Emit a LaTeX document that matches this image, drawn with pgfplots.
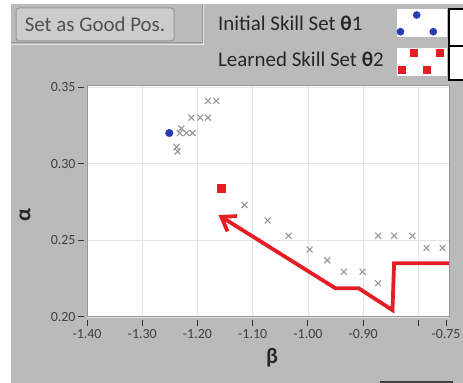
\documentclass[border=0pt]{standalone}
\usepackage{fontspec}
\setmainfont{Carlito}
\usepackage{pgfplots}
\pgfplotsset{compat=1.18}
\usetikzlibrary{arrows.meta}
\definecolor{panel}{RGB}{186,186,186}
\definecolor{btn}{RGB}{204,204,204}
\definecolor{btnborder}{RGB}{150,150,150}
\definecolor{ured}{RGB}{228,30,36}
\definecolor{ublue}{RGB}{40,60,180}
\definecolor{xgray}{RGB}{150,150,150}
\definecolor{gridc}{RGB}{228,228,228}
\begin{document}
\begin{tikzpicture}
\fill[white] (0,0) rectangle (463bp,383bp);
\fill[panel] (11bp,0) rectangle (463bp,379bp);
\begin{scope}[x=1bp,y=1bp]
% button
\draw[btnborder, fill=btn, rounded corners=3bp, line width=1bp] (16,342) rectangle (174,375);
\node[text=black!68, font=\fontsize{21}{24}\selectfont, anchor=base, inner sep=0] at (95,351.3) {Set as Good Pos.};
% separator
\draw[black!42, line width=1bp] (11,340) -- (202,340) -- (202,379);
\draw[white!80!gray, line width=1bp] (11,338.8) -- (203.3,338.8) -- (203.3,379);
% legend texts
\node[text=black!85, font=\fontsize{21}{24}\selectfont, anchor=base west, inner sep=0] at (218,353) {Initial Skill Set \textbf{θ}1};
\node[text=black!85, font=\fontsize{21}{24}\selectfont, anchor=base west, inner sep=0] at (218,316.3) {Learned Skill Set \textbf{θ}2};
% swatch boxes
\fill[white] (397,346) rectangle (447,374);
\fill[white] (397,307) rectangle (447,335);
\draw[black, line width=1.2bp, fill=white] (449,337) rectangle (475,374);
\draw[black, line width=1.2bp, fill=white] (449,303) rectangle (475,337);
% bottom control edge
\draw[black!75, line width=1.5bp] (380,1) -- (453,1);
% axis labels
\node[font=\fontsize{22}{24}\selectfont\bfseries, text=black!85] at (272,25) {β};
\node[font=\fontsize{22}{24}\selectfont\bfseries, text=black!85, rotate=90] at (25,168) {α};
\end{scope}
% swatch 1
\begin{axis}[at={(397bp,346bp)}, anchor=south west, width=50bp, height=28bp, scale only axis, hide axis, xmin=0, xmax=50, ymin=0, ymax=28]
\addplot[only marks, mark=*, mark size=3.6bp, ublue] coordinates {(19.7,22) (3.5,5.3) (36.3,5.3)};
\end{axis}
% swatch 2
\begin{axis}[at={(397bp,307bp)}, anchor=south west, width=50bp, height=28bp, scale only axis, hide axis, xmin=0, xmax=50, ymin=0, ymax=28]
\addplot[only marks, mark=square*, mark size=3.5bp, ured] coordinates {(16.5,23) (43,23) (5,6.5) (29.7,6.5)};
\end{axis}
% main plot
\begin{axis}[
 at={(87bp,66bp)}, anchor=south west,
 width=362bp, height=231.5bp, scale only axis,
 xmin=-1.40, xmax=-0.7446, ymin=0.20, ymax=0.351,
 axis background/.style={fill=white},
 axis line style={draw=xgray, line width=1bp},
 xtick={-1.4,-1.3,-1.2,-1.1,-1.0,-0.9,-0.8},
 xticklabels={-1.40,-1.30,-1.20,-1.10,-1.00,-0.90,{}},
 extra x ticks={-0.75}, extra x tick labels={-0.75}, extra x tick style={grid=none},
 ytick={0.20,0.25,0.30,0.35}, yticklabels={0.20,0.25,0.30,0.35},
 grid=major, major grid style={draw=gridc, line width=0.8bp},
 tick align=outside, major tick length=6bp, xtick pos=lower, ytick pos=left,
 every tick/.append style={black!80, line width=1bp},
 xtick style={yshift=-3bp}, ytick style={xshift=-3bp},
 ticklabel style={font=\fontsize{14}{16}\selectfont, text=black!75},
 xticklabel style={yshift=-3bp},
 yticklabel style={xshift=-2bp},
]
\addplot[only marks, mark=x, mark size=4.2bp, xgray, mark options={line width=1.1bp}] coordinates {
(-1.181,0.341) (-1.166,0.341)
(-1.211,0.330) (-1.195,0.330) (-1.181,0.330)
(-1.229,0.323) (-1.232,0.320) (-1.220,0.320) (-1.209,0.320)
(-1.238,0.311) (-1.236,0.308)
(-1.115,0.273) (-1.073,0.263) (-1.035,0.253) (-0.997,0.244) (-0.965,0.237)
(-0.935,0.2295) (-0.901,0.2295) (-0.873,0.222)
(-0.873,0.253) (-0.844,0.253) (-0.811,0.253) (-0.785,0.245) (-0.756,0.245)
};
\addplot[only marks, mark=*, mark size=3.8bp, ublue] coordinates {(-1.251,0.320)};
\addplot[only marks, mark=square*, mark size=3.8bp, ured] coordinates {(-1.157,0.284)};
\addplot[ured, line width=3.8bp, -{Straight Barb[length=13bp,width=18bp]}] coordinates {
(-0.740,0.235) (-0.844,0.235) (-0.847,0.2045) (-0.908,0.2187) (-0.950,0.2187) (-1.162,0.2665)
};
\end{axis}
\pgfresetboundingbox
\useasboundingbox (0,0) rectangle (463bp,383bp);
\end{tikzpicture}
\end{document}
